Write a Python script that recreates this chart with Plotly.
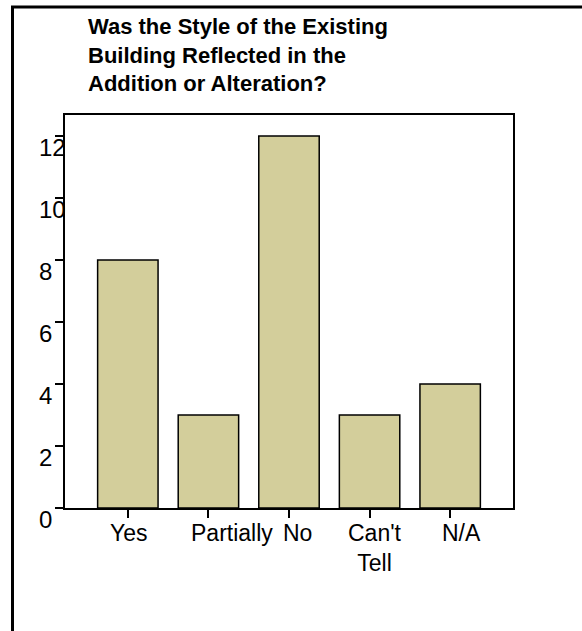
import plotly.graph_objects as go

# ---- data ----
categories = ["Yes", "Partially", "No", "Can't Tell", "N/A"]
category_labels = ["Yes", "Partially", "No", "Can't<br>Tell", "N/A"]
counts = [8, 3, 12, 3, 4]
y_ticks = [0, 2, 4, 6, 8, 10, 12]
title_text = "Was the Style of the Existing<br>Building Reflected in the<br>Addition or Alteration?"

# ---- style / layout ----
W, H = 582, 631
L, R, T, B = 65, 69, 115, 123
pw, ph = W - L - R, H - T - B
FONT = "Liberation Sans, Arial, sans-serif"
BAR_COLOR = "#D3CE9B"
XTICK_SIZE = 23
YTICK_SIZE = 24
label_xshift = [-18, -17, -6, -22, -8]   # label placement offsets (px)

def px_x(p):
    return (p - L) / pw

def px_y(p):
    return (H - B - p) / ph

fig = go.Figure(
    go.Bar(
        x=categories,
        y=counts,
        width=0.75,
        marker=dict(color=BAR_COLOR, line=dict(color="black", width=1.5)),
    )
)

annotations = []
# title
annotations.append(dict(
    text="<b>" + title_text + "</b>", xref="paper", yref="paper",
    x=0, y=1, xanchor="left", yanchor="top", xshift=21, yshift=103,
    align="left", showarrow=False,
    font=dict(family=FONT, size=22, color="black"),
))
# x category labels
for cat, lab, dx in zip(categories, category_labels, label_xshift):
    annotations.append(dict(
        text=lab, xref="x", yref="paper", x=cat, y=0,
        xanchor="left", yanchor="top", xshift=dx - 2, yshift=-10,
        align="center", showarrow=False,
        font=dict(family=FONT, size=XTICK_SIZE, color="black"),
    ))
# y tick labels
for v in y_ticks:
    annotations.append(dict(
        text=str(v), xref="paper", yref="y", x=0, y=v,
        xanchor="left", yanchor="top", xshift=-28, yshift=4,
        showarrow=False,
        font=dict(family=FONT, size=YTICK_SIZE, color="black"),
    ))

shapes = [
    dict(type="line", xref="paper", yref="paper",
         x0=px_x(12.5), x1=px_x(12.5), y0=px_y(7), y1=px_y(640),
         line=dict(color="black", width=3)),
    dict(type="line", xref="paper", yref="paper",
         x0=px_x(11), x1=px_x(600), y0=px_y(7), y1=px_y(7),
         line=dict(color="black", width=3)),
]

fig.update_layout(
    width=W, height=H,
    margin=dict(l=L, r=R, t=T, b=B, pad=0),
    paper_bgcolor="white", plot_bgcolor="white",
    showlegend=False,
    bargap=0.25,
    annotations=annotations,
    shapes=shapes,
    font=dict(family=FONT, size=XTICK_SIZE, color="black"),
)
fig.update_xaxes(
    type="category", range=[-0.78, 4.78],
    showline=True, linecolor="black", linewidth=2, mirror=True,
    ticks="outside", ticklen=8, tickwidth=1.5, tickcolor="black",
    showticklabels=False, showgrid=False, zeroline=False,
)
fig.update_yaxes(
    range=[0, 12.68], tickvals=y_ticks,
    showline=True, linecolor="black", linewidth=2, mirror=True,
    ticks="outside", ticklen=8, tickwidth=1.5, tickcolor="black",
    showticklabels=False, showgrid=False, zeroline=False,
)

fig.write_html("out.html")
